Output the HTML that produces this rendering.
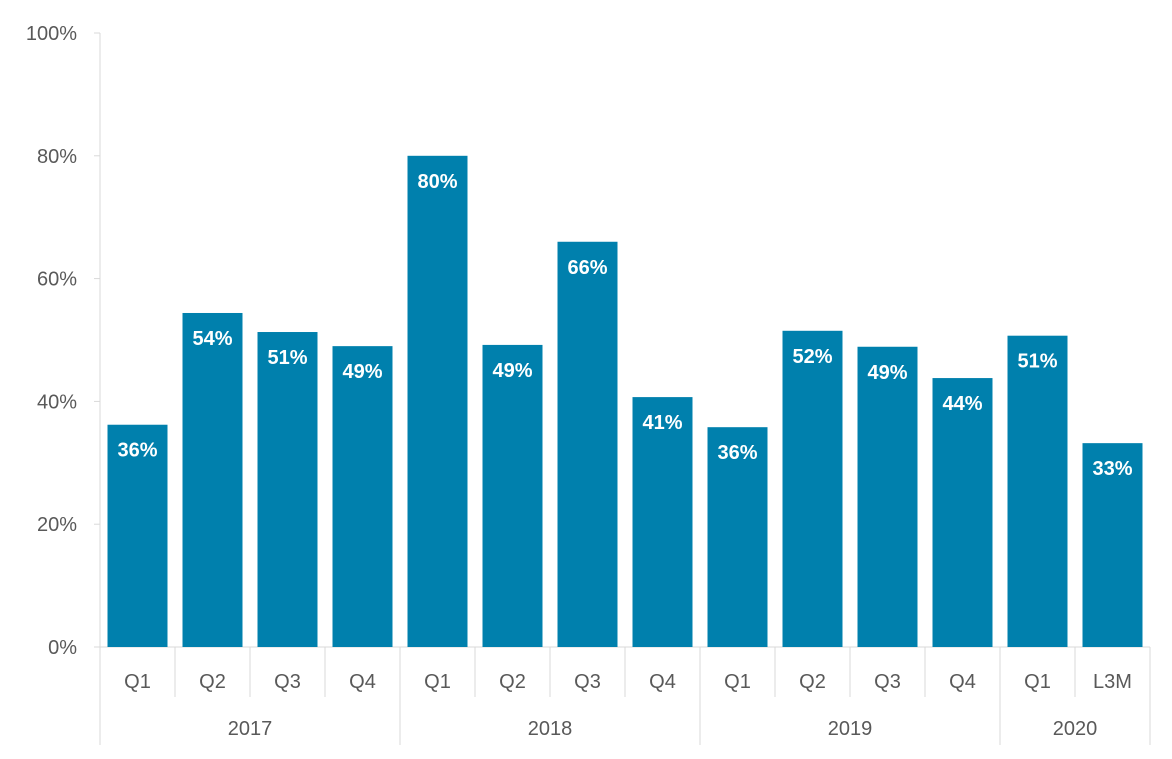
<!DOCTYPE html>
<html><head><meta charset="utf-8"><style>
body{margin:0;background:#fff;}
svg text{font-family:"Liberation Sans",sans-serif;}
</style></head><body>
<svg id="chart" width="1172" height="754" xmlns="http://www.w3.org/2000/svg"></svg>
<script>
const quarters=["Q1","Q2","Q3","Q4","Q1","Q2","Q3","Q4","Q1","Q2","Q3","Q4","Q1","L3M"];
const values=[36.2,54.4,51.3,49.0,80.0,49.2,66.0,40.7,35.8,51.5,48.9,43.8,50.7,33.2];
const years=["2017","2018","2019","2020"];
const yearSpans=[4,4,4,2];
const yTicks=[0,20,40,60,80,100];

const svg=document.getElementById('chart');
const NS="http://www.w3.org/2000/svg";
const x0=100,step=75,barW=60,y0=647,yTop=33;
const y=v=>y0-(v/100)*(y0-yTop);
const xc=i=>x0+step*i+step/2;
function mk(tag,attrs,txt){const e=document.createElementNS(NS,tag);for(const k in attrs)e.setAttribute(k,attrs[k]);if(txt!==undefined)e.textContent=txt;svg.appendChild(e);return e;}

// y axis
let ax=mk('line',{x1:x0,x2:x0,y1:yTop,y2:745,stroke:'#d9d9d9','stroke-width':1});


yTicks.forEach(t=>{
  const tk=mk('line',{x1:x0-6,x2:x0,y1:y(t),y2:y(t),stroke:'#d9d9d9'});
  
  
  const l=mk('text',{x:77,y:y(t)+7,'text-anchor':'end','font-size':20,fill:'#595959'},t+'%');
  
  
});
// x axis baseline
let bl=mk('line',{x1:x0,x2:x0+step*quarters.length,y1:y0,y2:y0,stroke:'#d9d9d9'});



// bars
values.forEach((v,i)=>{
  const r=mk('rect',{x:xc(i)-barW/2,y:y(v),width:barW,height:y0-y(v),fill:'#0080ad'});
  
  
  const t=mk('text',{x:xc(i),y:y(v)+32,'text-anchor':'middle','font-size':20,'font-weight':'bold',fill:'#fff'},Math.round(v)+'%');
  
  
  const q=mk('text',{x:xc(i),y:688,'text-anchor':'middle','font-size':20,fill:'#595959'},quarters[i]);
  
  
});
// separators
let idx=0;const yearBounds=new Set([0]);
yearSpans.forEach(s=>{idx+=s;yearBounds.add(idx);});
for(let i=1;i<=quarters.length;i++){
  const full=yearBounds.has(i);
  const s=mk('line',{x1:x0+step*i,x2:x0+step*i,y1:y0,y2:full?745:697,stroke:'#d9d9d9'});
  
  
}
let start=0;
years.forEach((yr,k)=>{
  const mid=x0+step*(start+yearSpans[k]/2);
  const t=mk('text',{x:mid,y:735,'text-anchor':'middle','font-size':20,fill:'#595959'},yr);
  
  
  start+=yearSpans[k];
});
</script>
</body></html>
